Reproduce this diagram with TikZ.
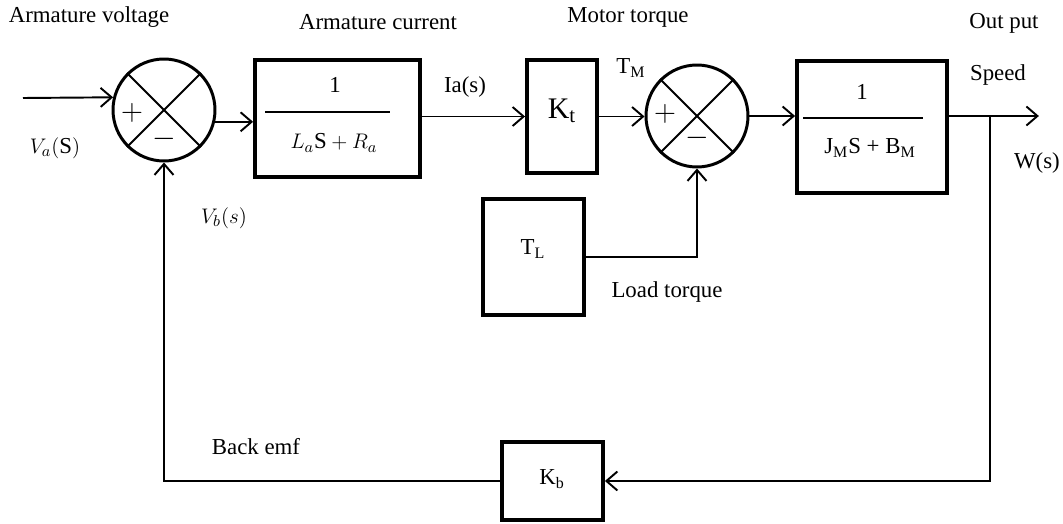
\documentclass[tikz,border=0pt]{standalone}
\usepackage{fontspec}
\setmainfont{Liberation Serif}
\usetikzlibrary{arrows.meta,positioning}

\tikzset{
  blockbox/.style={draw, line width=2.2pt, inner sep=0pt},
  sumnode/.style={draw, circle, line width=1.7pt, minimum size=2.04cm, inner sep=0pt},
  signal/.style={line width=1.1pt, -{Straight Barb[length=2.2mm,width=3.8mm,line width=1.1pt]}},
  wire/.style={line width=1.1pt},
  lbl/.style={font=\fontsize{13}{15}\selectfont, inner sep=0pt},
  sign/.style={inner sep=0pt, font=\LARGE}
}

\begin{document}
\begin{tikzpicture}[x=0.02cm, y=-0.02cm]
        \useasboundingbox (0,0) rectangle (1063,524);

        % Summierpunkte
        \node[sumnode] (sum1) at (164,110) {};
        \node[sumnode] (sum2) at (697,116) {};
        \draw[wire] (sum1.45) -- (sum1.225);
        \draw[wire] (sum1.135) -- (sum1.-45);
        \draw[wire] (sum2.45) -- (sum2.225);
        \draw[wire] (sum2.135) -- (sum2.-45);
        \node[sign] (plus1) at ([xshift=-0.64cm,yshift=-0.06cm]sum1.center) {$+$};
        \node[sign] (minus1) at ([yshift=-0.58cm]sum1.center) {$-$};
        \node[sign] (plus2) at ([xshift=-0.64cm,yshift=0.04cm]sum2.center) {$+$};
        \node[sign] (minus2) at ([yshift=-0.44cm]sum2.center) {$-$};

        % Bloecke
        \node[blockbox, minimum width=3.3cm, minimum height=2.34cm] (elec) at (337.5,118.5) {};
        \node[blockbox, minimum width=1.4cm, minimum height=2.26cm] (kt) at (562,116.5) {};
        \node[blockbox, minimum width=3cm, minimum height=2.64cm] (mech) at (872,127) {};
        \node[blockbox, minimum width=2.02cm, minimum height=2.32cm] (tl) at (533.5,257) {};
        \node[blockbox, minimum width=2.02cm, minimum height=1.56cm] (kb) at (552.5,481) {};

        % Blockinhalte
        \node[lbl] (elecnum) at (335,85) {1};
        \draw[wire] (265,112) -- (390,112); % Bruchstrich
        \node[lbl] (elecden) at (334,143) {$L_a\mathrm{S}+R_a$};
        \node[font=\fontsize{17}{19}\selectfont, inner sep=0pt] (kttext) at (562,111) {K\textsubscript{t}};
        \node[lbl] (mechnum) at (862,92) {1};
        \draw[wire] (803,118) -- (923,118); % Bruchstrich
        \node[lbl] (mechden) at (870,148) {J\textsubscript{M}S + B\textsubscript{M}};
        \node[lbl] (tltext) at (533,249) {T\textsubscript{L}};
        \node[lbl] (kbtext) at (552,479) {K\textsubscript{b}};

        % Ein- und Ausgang
        \coordinate (vin) at (23,98);
        \path (sum2.east -| mech.east) ++(0.82cm,0) coordinate (tap);
        \path (tap) ++(0.98cm,0) coordinate (vout);

        % Signalpfade
        \draw[signal] (vin) -- (sum1.166);
        \draw[signal] (sum1.-13) -- (sum1.-13 -| elec.west);
        \draw[signal] (kt.west -| elec.east) -- (kt.west);
        \draw[signal] (kt.east) -- (kt.east -| sum2.west);
        \draw[signal] (sum2.east) -- (sum2.east -| mech.west);
        \draw[wire] (sum2.east -| mech.east) -- (tap);
        \draw[signal] (tap) -- (vout);
        \draw[signal] (tap) |- (kb.east);
        \draw[signal] (kb.west) -| (sum1.south);
        \draw[signal] (tl.east) -| (sum2.south);

        % Beschriftungen
        \node[lbl] (armv) at (89,17) {Armature voltage};
        \node[lbl] (armi) at (378,22) {Armature current};
        \node[lbl] (mtorque) at (628,17) {Motor torque};
        \node[lbl] (outp) at (1004,23) {Out put};
        \node[lbl] (speed) at (998,75) {Speed};
        \node[lbl] (ws) at (1037,163) {W(s)};
        \node[lbl] (ias) at (465,87) {Ia(s)};
        \node[lbl] (tm) at (631,68) {T\textsubscript{M}};
        \node[lbl] (vas) at (55,148) {$V_a(\mathrm{S})$};
        \node[lbl] (vbs) at (224,218) {$V_b(s)$};
        \node[lbl] (ltorque) at (667,292) {Load torque};
        \node[lbl] (bemf) at (256,447) {Back emf};

    \end{tikzpicture}
\end{document}
